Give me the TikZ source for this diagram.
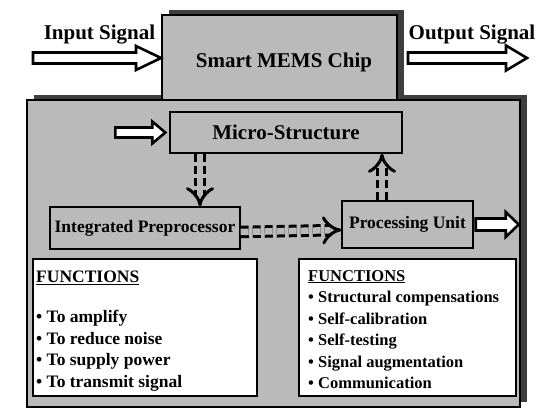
\documentclass[tikz,border=0pt]{standalone}
\usepackage{fontspec}
\setmainfont{Liberation Serif}
\usetikzlibrary{arrows.meta,calc,shadows}

\definecolor{dither}{RGB}{186,186,186}
\definecolor{shade}{RGB}{62,62,62}

% Outlined block arrow: #1 tail coordinate, #2 length, #3 shaft half-width,
% #4 head half-width, #5 head length (pixel units, y pointing down)
\newcommand{\HollowArrow}[5]{%
  \draw[hollow] (#1) ++(0,-#3) -- ++({#2-#5},0) -- ++(0,{#3-#4})
    -- ++(#5,#4) -- ++(-#5,#4) -- ++(0,{#3-#4}) -- ++({#5-#2},0) -- cycle;}

\begin{document}
\begin{tikzpicture}[x=1pt,y=-1pt,
  board/.style={draw=black, line width=1.5pt, fill=dither, inner sep=0pt,
    general shadow={fill=shade, shadow xshift=6.5pt, shadow yshift=5pt}},
  unit/.style={draw=black, line width=1.4pt, fill=dither, inner sep=0pt,
    font=\bfseries\fontsize{17.5}{20}\selectfont},
  fnbox/.style={draw=black, line width=1.4pt, fill=white, inner sep=0pt},
  fntext/.style={align=left, inner sep=0pt, anchor=north west},
  biglabel/.style={font=\bfseries\fontsize{21}{24}\selectfont, inner sep=0pt},
  hollow/.style={draw=black, line width=2.6pt, fill=white, line join=miter},
  flow/.style={dash pattern=on 8pt off 4pt, line width=3pt, double=dither,
    double distance=6.5pt, -{Implies}}
]
\useasboundingbox (0,0) rectangle (552,412);

% outer board and the chip on top of it
\node[board, minimum width=493pt, minimum height=307pt] (boardbox) at (273.5,253.5) {};
\node[board, line width=1.2pt, minimum width=235pt, minimum height=85pt] (chip) at (279.5,57.5) {};
\node[biglabel, anchor=base] (chiplabel) at (284,67) {Smart MEMS Chip};

% signal labels and arrows outside the chip
\node[biglabel, anchor=base] (inlabel) at (99.5,40) {Input Signal};
\node[biglabel, anchor=base] (outlabel) at (472,40) {Output Signal};
\coordinate (inTail) at (33,58);
\coordinate (outTail) at (408,58);
\HollowArrow{inTail}{128}{5.5}{12}{25}
\HollowArrow{outTail}{119}{5.5}{12.5}{21}

% functional units
\node[unit, minimum width=232pt, minimum height=41pt] (micro) at (286,132.5) {\fontsize{21}{24}\selectfont Micro-Structure};
\node[unit, minimum width=190pt, minimum height=42pt] (ip) at (145,228) {Integrated Preprocessor};
\node[unit, minimum width=131pt, minimum height=47pt] (pu) at (407.5,224.5) {Processing Unit};

\coordinate (microTail) at ([xshift=-54pt]micro.west);
\coordinate (puTail) at ([xshift=2pt]pu.east);
\HollowArrow{microTail}{50}{5}{11}{13}
\HollowArrow{puTail}{43}{6}{12.5}{13}

% data flow between the units
\draw[flow] ([xshift=-86pt]micro.south) -- ([xshift=55pt]ip.north);
\draw[flow] ([yshift=-4pt]ip.east) -- ([yshift=-5.5pt]pu.west);
\draw[flow] ([xshift=-25.5pt]pu.north) -- ([xshift=96pt]micro.south);

% function lists
\node[fnbox, minimum width=224pt, minimum height=137pt] (fnL) at (145,327.5) {};
\node[fnbox, minimum width=217pt, minimum height=137pt] (fnR) at (407.5,327.5) {};

\node[fntext, font=\bfseries\fontsize{17.5}{21.5}\selectfont] (fnLtext) at (36,271)
  {\underline{FUNCTIONS}\\[18.5pt]
   \textbullet\ To amplify\\
   \textbullet\ To reduce noise\\
   \textbullet\ To supply power\\
   \textbullet\ To transmit signal};
\node[fntext, font=\bfseries\fontsize{16.5}{21.5}\selectfont] (fnRtext) at (308,270)
  {\underline{FUNCTIONS}\\
   \textbullet\ Structural compensations\\
   \textbullet\ Self-calibration\\
   \textbullet\ Self-testing\\
   \textbullet\ Signal augmentation\\
   \textbullet\ Communication};
\end{tikzpicture}
\end{document}
